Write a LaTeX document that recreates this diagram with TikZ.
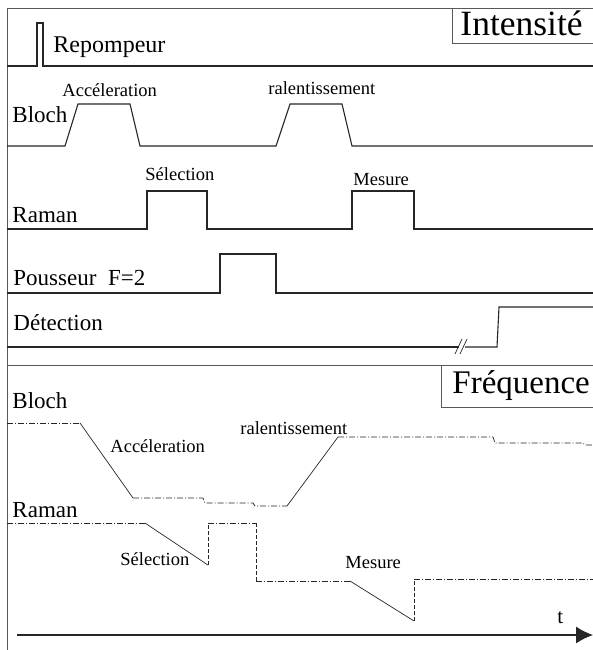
\documentclass[tikz,border=0pt]{standalone}
\usepackage{fontspec}
\setmainfont{Liberation Serif}
\usetikzlibrary{arrows.meta}
\begin{document}
\begin{tikzpicture}[x=1pt,y=-1pt,line width=0.9pt]
  \tikzstyle{lab}=[inner sep=0pt,anchor=base west,font=\fontsize{23}{23}\selectfont]
  \tikzstyle{small}=[inner sep=0pt,anchor=base west,font=\fontsize{18.5}{18.5}\selectfont]
  \tikzstyle{big}=[inner sep=0pt,anchor=base west,font=\fontsize{33}{33}\selectfont]
  \tikzstyle{signal}=[black!85,line width=1.1pt]
  \tikzstyle{freq}=[black!85,line width=0.7pt,dash pattern=on 6pt off 2pt on 1pt off 2pt]
  \tikzstyle{jump}=[black!85,line width=0.7pt,dash pattern=on 4pt off 2pt]
  \tikzstyle{ramp}=[black!85,line width=0.7pt]
  \useasboundingbox (0,0) rectangle (593,650);

  \draw[black!65] (7,650) -- (7,8) -- (593,8);
  \draw[black!65] (452,8) -- (452,43) -- (593,43);
  \draw[black!65] (7,365) -- (593,365);
  \draw[black!65] (441,365) -- (441,407) -- (593,407);

  \node[big,font=\fontsize{35.5}{35.5}\selectfont] (I_0) at (460,36) {Intensité};
  \node[big] (F_0) at (452,393) {Fréquence};

  \node[lab,font=\fontsize{24}{24}\selectfont] (I_1) at (53,53) {Repompeur};
  \node[lab] (I_2) at (12,122) {Bloch};
  \node[small] (I_3) at (62,97) {Accéleration};
  \node[small] (I_4) at (268,95) {ralentissement};
  \node[lab] (I_5) at (12,222) {Raman};
  \node[small] (I_6) at (145,180) {Sélection};
  \node[small] (I_7) at (353,185) {Mesure};
  \node[lab] (I_8) at (13,285) {Pousseur~~F=2};
  \node[lab] (I_9) at (13,330) {Détection};

  \draw[signal] (7,66) -- (37,66) -- (37,23) -- (43,23) -- (43,66) -- (593,66);
  \draw[signal] (7,146) -- (65,146) -- (78,104) -- (130,104) -- (140,146) -- (276,146)
    -- (290,104) -- (342,104) -- (352,146) -- (593,146);
  \draw[signal] (7,229) -- (147,229) -- (147,191) -- (207,191) -- (207,229) -- (352,229)
    -- (352,191) -- (414,191) -- (414,229) -- (593,229);
  \draw[signal] (7,293) -- (220,293) -- (220,254) -- (276,254) -- (276,293) -- (593,293);
  \draw[signal] (7,347) -- (459,347);
  \draw[signal] (465,347) -- (497,347) -- (499,307) -- (593,307);
  \draw[ramp] (455,354) -- (462,339);
  \draw[ramp] (460,354) -- (467,339);

  \node[lab] (F_1) at (12,408) {Bloch};
  \node[small] (F_2) at (110,452) {Accéleration};
  \node[small] (F_3) at (240,434) {ralentissement};
  \node[lab] (F_4) at (12,517) {Raman};
  \node[small] (F_5) at (120,565) {Sélection};
  \node[small] (F_6) at (345,568) {Mesure};

  \draw[freq] (7,423) -- (80,423);
  \draw[ramp] (80,423) -- (133,498);
  \draw[freq] (133,498) -- (203,498) -- (205,503) -- (253,503) -- (255,506) -- (287,506);
  \draw[ramp] (287,506) -- (338,437);
  \draw[freq] (338,437) -- (493,437) -- (495,443) -- (583,443) -- (585,445) -- (593,445);

  \draw[freq] (7,523) -- (145,523);
  \draw[ramp] (145,523) -- (208,565);
  \draw[jump] (208,565) -- (208,523);
  \draw[freq] (208,523) -- (256,523);
  \draw[jump] (256,523) -- (256,581);
  \draw[freq] (256,581) -- (350,581);
  \draw[ramp] (350,581) -- (414,621);
  \draw[jump] (414,621) -- (414,579);
  \draw[freq] (414,579) -- (593,579);

  \node[lab,font=\fontsize{21}{21}\selectfont] (T) at (557,623) {t};
  \draw[black!85,line width=1.2pt,-{Latex[length=17pt,width=17pt]}] (17,635) -- (593,635);
\end{tikzpicture}
\end{document}
